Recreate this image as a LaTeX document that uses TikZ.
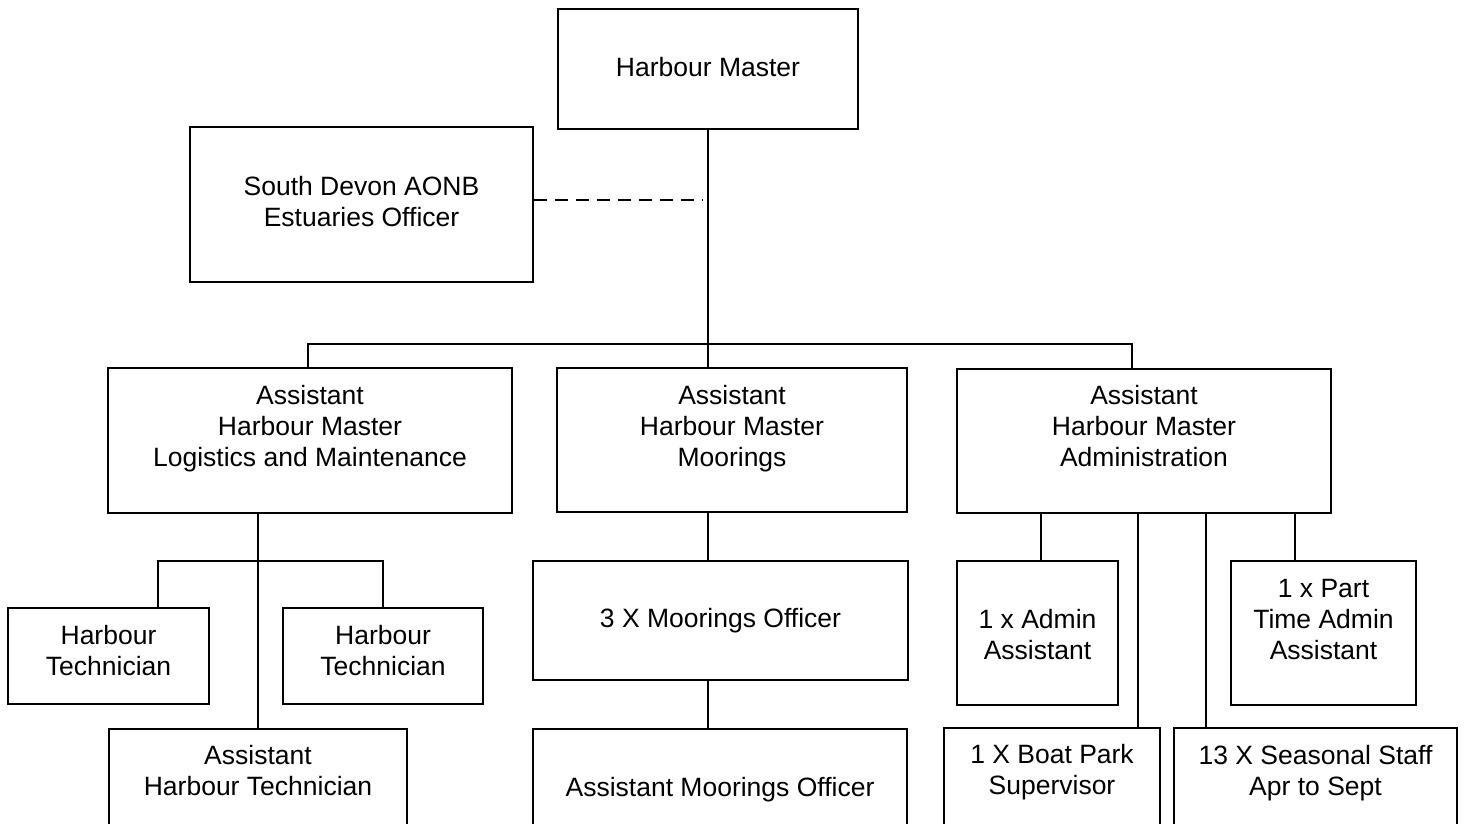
\documentclass[tikz,border=0pt]{standalone}
\usepackage{fontspec}
\setmainfont{Liberation Sans}
\begin{document}
\begin{tikzpicture}[x=1pt,y=-1pt,
  box/.style={draw=black, line width=1.7pt, inner sep=0pt},
  lbl/.style={inner sep=0pt, align=center, font=\fontsize{26.5}{31}\selectfont},
  link/.style={draw=black, line width=1.2pt},
  dashlink/.style={link, dash pattern=on 13.5pt off 7.5pt}]
\useasboundingbox (0,0) rectangle (1464,823);
\fill[white] (0,0) rectangle (1464,823);
\clip (0,0) rectangle (1464,823);

% boxes
\node[box, minimum width=300pt, minimum height=120pt] (hm)  at (708,69) {};
\node[box, minimum width=343pt, minimum height=155pt] (sd)  at (361.5,204.5) {};
\node[box, minimum width=404pt, minimum height=145pt] (log) at (310,440.5) {};
\node[box, minimum width=350pt, minimum height=144pt] (moo) at (732,440) {};
\node[box, minimum width=374pt, minimum height=144pt] (adm) at (1144,441) {};
\node[box, minimum width=201pt, minimum height=96pt]  (ht1) at (108.5,656) {};
\node[box, minimum width=200pt, minimum height=96pt]  (ht2) at (383,656) {};
\node[box, minimum width=298pt, minimum height=110pt] (aht) at (258,784) {};
\node[box, minimum width=375pt, minimum height=119pt] (mo3) at (720.5,620.5) {};
\node[box, minimum width=374pt, minimum height=110pt] (amo) at (720,784) {};
\node[box, minimum width=161pt, minimum height=144pt] (aa)  at (1037.5,633) {};
\node[box, minimum width=185pt, minimum height=144pt] (pt)  at (1323.5,633) {};
\node[box, minimum width=216pt, minimum height=110pt] (bp)  at (1052,783) {};
\node[box, minimum width=283pt, minimum height=110pt] (ss)  at (1315.5,783) {};

% labels
\node[lbl] (hm-t)  at (708,67) {Harbour Master};
\node[lbl] (sd-t)  at (361.5,202) {South Devon AONB\\Estuaries Officer};
\node[lbl] (log-t) at (310,429) {Assistant\\Harbour Master\\Logistics and Maintenance};
\node[lbl] (moo-t) at (732,429) {Assistant\\Harbour Master\\Moorings};
\node[lbl] (adm-t) at (1144,426) {Assistant\\Harbour Master\\Administration};
\node[lbl] (ht1-t) at (108.5,650.5) {Harbour\\Technician};
\node[lbl] (ht2-t) at (383,650.5) {Harbour\\Technician};
\node[lbl] (aht-t) at (258,771) {Assistant\\Harbour Technician};
\node[lbl] (mo3-t) at (720.5,621) {3 X Moorings Officer};
\node[lbl] (amo-t) at (720,790) {Assistant Moorings Officer};
\node[lbl] (aa-t)  at (1037.5,634.5) {1 x Admin\\Assistant};
\node[lbl] (pt-t)  at (1323.5,619) {1 x Part\\Time Admin\\Assistant};
\node[lbl] (bp-t)  at (1052,772) {1 X Boat Park\\Supervisor};
\node[lbl] (ss-t)  at (1315.5,773) {13 X Seasonal Staff\\Apr to Sept};

% helper coordinates
\coordinate (busL) at (308,344);
\coordinate (busR) at (1132,344);
\coordinate (dashEnd) at (703,200);
\coordinate (tbusL) at (158,561);
\coordinate (tbusR) at (383,561);
\coordinate (mx) at (708,0);
\coordinate (a1) at (1041,0);
\coordinate (a2) at (1138,0);
\coordinate (a3) at (1206,0);
\coordinate (a4) at (1295,0);

% connectors
\draw[link] (hm.south) -- (hm.south |- moo.north);
\draw[link] (log.north -| busL) -- (busL) -- (busR) -- (adm.north -| busR);
\draw[dashlink] (sd.east |- dashEnd) -- (dashEnd);

\draw[link] (log.south -| aht.north) -- (aht.north);
\draw[link] (ht1.north -| tbusL) -- (tbusL) -- (tbusR) -- (ht2.north);

\draw[link] (moo.south -| mx) -- (mo3.north -| mx);
\draw[link] (mo3.south -| mx) -- (amo.north -| mx);

\draw[link] (adm.south -| a1) -- (aa.north -| a1);
\draw[link] (adm.south -| a2) -- (bp.north -| a2);
\draw[link] (adm.south -| a3) -- (ss.north -| a3);
\draw[link] (adm.south -| a4) -- (pt.north -| a4);
\end{tikzpicture}
\end{document}
